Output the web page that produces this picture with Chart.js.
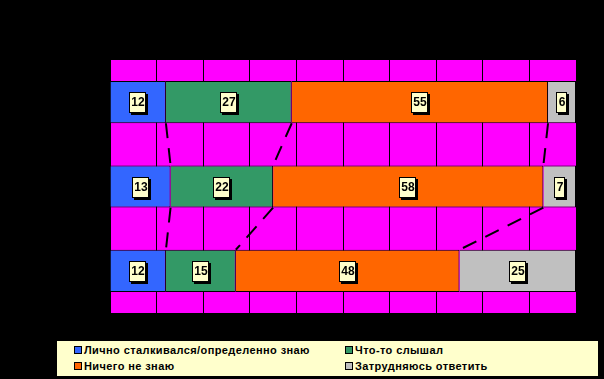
<!DOCTYPE html>
<html>
<head>
<meta charset="utf-8">
<script src="https://cdn.jsdelivr.net/npm/chart.js@4/dist/chart.umd.min.js"></script>
<style>
  body { margin: 0; background: #000; }
  #wrap { position: relative; width: 604px; height: 379px; }
  #legend {
    position: absolute; left: 57px; top: 341px; width: 541px; height: 35px;
    background: #FFFFCC; font: bold 11px "Liberation Sans", Arial, sans-serif; color: #000;
  }
  .item { position: absolute; display: flex; align-items: center; white-space: nowrap; letter-spacing: 0.4px; }
  .box { width: 6px; height: 6px; border: 1px solid #000; margin-right: 2px; }
</style>
</head>
<body>
<div id="wrap">
  <canvas id="barChart" width="604" height="379"></canvas>
  <div id="legend"></div>
</div>
<script>
const categories = ['1', '2', '3'];
const seriesNames = [
    'Лично сталкивался/определенно знаю',
    'Что-то слышал',
    'Ничего не знаю',
    'Затрудняюсь ответить'];
const lichno = [12, 13, 12];
const slyshal = [27, 22, 15];
const nichego = [55, 58, 48];
const zatrud = [6, 7, 25];
const colors = ['#3366FF', '#339966', '#FF6600', '#C0C0C0'];

const seriesValues = [lichno, slyshal, nichego, zatrud];

// magenta plot background
const plotBg = {
    id: 'plotBg',
    beforeDraw(chart) {
        const a = chart.chartArea;
        const ctx = chart.ctx;
        ctx.save();
        ctx.fillStyle = '#FF00FF';
        ctx.fillRect(a.left, a.top, a.right - a.left, a.bottom - a.top);
        ctx.restore();
    }
};

// dashed series lines between bars
const seriesLines = {
    id: 'seriesLines',
    afterDatasetsDraw(chart) {
        const ctx = chart.ctx;
        const x = chart.scales.x;
        ctx.save();
        ctx.strokeStyle = '#000';
        ctx.lineWidth = 2;
        ctx.setLineDash([15, 10]);
        for (let s = 0; s < seriesValues.length - 1; s++) {
            const meta = chart.getDatasetMeta(s);
            for (let i = 0; i < categories.length - 1; i++) {
                let c1 = 0, c2 = 0;
                for (let k = 0; k <= s; k++) { c1 += seriesValues[k][i]; c2 += seriesValues[k][i + 1]; }
                const b1 = meta.data[i], b2 = meta.data[i + 1];
                ctx.beginPath();
                ctx.moveTo(x.getPixelForValue(c1), b1.y + b1.height / 2);
                ctx.lineTo(x.getPixelForValue(c2), b2.y - b2.height / 2);
                ctx.stroke();
            }
        }
        ctx.restore();
    }
};

// value labels in yellow boxes
const valueLabels = {
    id: 'valueLabels',
    afterDraw(chart) {
        const ctx = chart.ctx;
        ctx.save();
        ctx.font = 'bold 12px "Liberation Sans", Arial, sans-serif';
        ctx.textAlign = 'center';
        ctx.textBaseline = 'middle';
        chart.data.datasets.forEach((ds, s) => {
            chart.getDatasetMeta(s).data.forEach((bar, i) => {
                const txt = String(ds.data[i]);
                const cx = Math.round((bar.x + bar.base) / 2);
                const cy = Math.round(bar.y);
                const w = Math.round(ctx.measureText(txt).width) + 4;
                const h = 21;
                const l = cx - Math.round(w / 2), t = cy - 10;
                ctx.fillStyle = '#000';
                ctx.fillRect(l + 2, t + 2, w, h);
                ctx.fillStyle = '#FFFFCC';
                ctx.fillRect(l, t, w, h);
                ctx.strokeStyle = '#000';
                ctx.lineWidth = 1;
                ctx.strokeRect(l + 0.5, t + 0.5, w - 1, h - 1);
                ctx.fillStyle = '#000';
                ctx.fillText(txt, cx, cy + 1);
            });
        });
        ctx.restore();
    }
};

const data = {
    labels: categories,
    datasets: seriesNames.map((name, s) => ({
        label: name,
        data: seriesValues[s],
        backgroundColor: colors[s],
        borderColor: '#000',
        borderWidth: 1,
        barPercentage: 1,
        categoryPercentage: 0.5
    }))
};

const config = {
    type: 'bar',
    data: data,
    options: {
        indexAxis: 'y',
        responsive: false,
        animation: false,
        layout: { padding: { left: 110, right: 28, top: 60, bottom: 66 } },
        scales: {
            x: {
                stacked: true, min: 0, max: 100,
                ticks: { display: false, stepSize: 10 },
                grid: { color: '#000', drawTicks: false },
                border: { display: false }
            },
            y: { stacked: true, display: false }
        },
        plugins: { legend: { display: false }, tooltip: { enabled: false } }
    },
    plugins: [plotBg, seriesLines, valueLabels]
};

const barChart = new Chart(document.getElementById('barChart'), config);

// legend, 2 columns like the original
const legendPos = [[17, 3], [288, 3], [17, 19], [288, 19]];
const order = [0, 1, 2, 3];
const legendEl = document.getElementById('legend');
order.forEach((s, k) => {
    const it = document.createElement('div');
    it.className = 'item';
    it.style.left = legendPos[k][0] + 'px';
    it.style.top = legendPos[k][1] + 'px';
    it.innerHTML = '<span class="box" style="background:' + colors[s] + '"></span>' + seriesNames[s];
    legendEl.appendChild(it);
});
</script>
</body>
</html>
